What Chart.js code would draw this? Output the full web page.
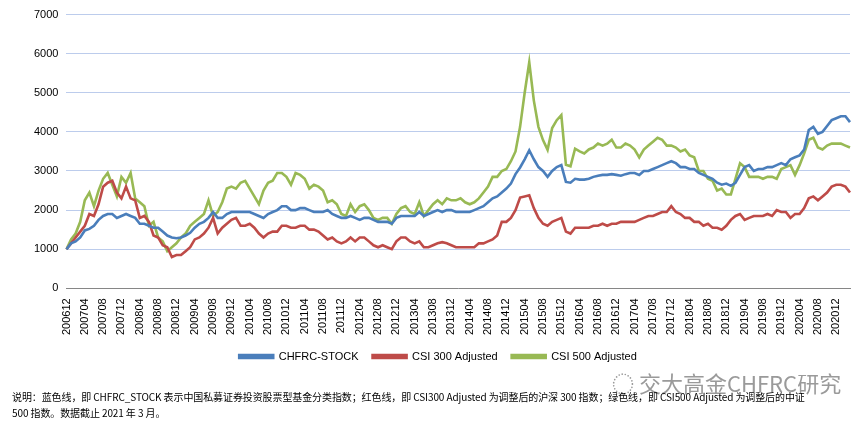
<!DOCTYPE html>
<html><head><meta charset="utf-8">
<script src="https://cdn.jsdelivr.net/npm/chart.js@4"></script>
<style>
body{margin:0;background:#fff;width:865px;height:423px;overflow:hidden;position:relative;font-family:"Liberation Sans",Arial,sans-serif}
#wrap{position:absolute;left:0;top:0;width:865px;height:372px}
#note{position:absolute;left:12px;top:389px;font-size:10px;line-height:16px;color:#000;font-family:"Noto Sans CJK SC","DejaVu Sans Mono",monospace;letter-spacing:-0.1px;white-space:nowrap}
#wm{position:absolute;left:612px;top:366px;font-size:22px;color:#9a9a9a;font-family:"Noto Sans CJK SC",sans-serif}
</style></head><body>
<div id="wrap"><canvas id="c"></canvas></div>
<div id="wm">◌ 交大高金CHFRC研究</div>
<div id="note">说明：蓝色线，即 CHFRC_STOCK 表示中国私募证券投资股票型基金分类指数；红色线，即 CSI300 Adjusted 为调整后的沪深 300 指数；绿色线，即 CSI500 Adjusted 为调整后的中证<br>500 指数。数据截止 2021 年 3 月。</div>
<script>
const categories=[];
for(let y=2006,m=12;categories.length<172;){categories.push(String(y)+String(m).padStart(2,'0'));m++;if(m>12){m=1;y++;}}
const chfrcStock=[
1000,1150,1200,1300,1480,1520,1600,1750,1850,1900,
1900,1800,1850,1900,1850,1800,1650,1650,1600,1550,
1550,1450,1350,1300,1280,1300,1350,1420,1550,1650,
1700,1800,1950,1800,1800,1900,1950,1950,1950,1950,
1950,1900,1850,1800,1900,1950,2000,2100,2100,2000,
2000,2050,2050,2000,1950,1950,1950,2000,1900,1850,
1800,1800,1850,1800,1750,1800,1800,1750,1700,1700,
1700,1650,1800,1850,1850,1850,1850,1950,1850,1900,
1950,2000,1950,2000,2000,1950,1950,1950,1950,2000,
2050,2100,2200,2300,2350,2450,2550,2680,2920,3090,
3300,3530,3300,3100,3000,2850,3000,3100,3150,2720,
2700,2800,2780,2780,2800,2850,2880,2900,2900,2920,
2900,2880,2920,2950,2950,2900,3000,3000,3050,3100,
3150,3200,3250,3200,3100,3100,3050,3050,2950,2900,
2850,2800,2700,2650,2680,2620,2700,2900,3100,3150,
3000,3050,3050,3100,3100,3150,3200,3150,3300,3350,
3400,3550,4050,4130,3950,4000,4150,4300,4350,4400,
4400,4250];
const csi300Adjusted=[
1000,1150,1300,1450,1600,1900,1850,2150,2600,2700,
2750,2450,2300,2600,2300,2250,1800,1850,1700,1350,
1300,1100,1050,800,850,850,950,1050,1250,1300,
1400,1550,1800,1400,1550,1650,1750,1800,1600,1600,
1650,1550,1400,1300,1400,1450,1450,1600,1600,1550,
1550,1600,1600,1500,1500,1450,1350,1250,1300,1200,
1150,1200,1300,1200,1300,1300,1200,1100,1050,1100,
1050,1000,1200,1300,1300,1200,1150,1200,1050,1050,
1100,1150,1180,1150,1100,1050,1050,1050,1050,1050,
1150,1150,1200,1250,1350,1700,1700,1800,2000,2320,
2350,2380,2050,1800,1650,1600,1700,1750,1800,1450,
1400,1550,1550,1550,1550,1600,1600,1650,1600,1650,
1650,1700,1700,1700,1700,1750,1800,1850,1850,1900,
1950,1950,2100,1950,1900,1800,1800,1700,1700,1600,
1650,1550,1550,1500,1600,1750,1850,1900,1750,1800,
1850,1850,1850,1900,1850,2000,1950,1950,1800,1900,
1900,2050,2300,2350,2250,2350,2450,2600,2650,2650,
2600,2450];
const csi500Adjusted=[
1000,1250,1400,1700,2250,2450,2100,2500,2800,2950,
2650,2350,2850,2700,2950,2300,2200,2100,1600,1700,
1300,1200,950,1050,1150,1300,1400,1600,1700,1800,
1900,2250,1850,1950,2200,2550,2600,2550,2700,2750,
2550,2350,2150,2500,2700,2750,2950,2950,2850,2650,
2950,2900,2800,2550,2650,2600,2500,2200,2250,2150,
1900,1850,2150,1950,2100,2150,2000,1800,1750,1800,
1800,1650,1900,2050,2100,1950,1900,2200,1850,2000,
2150,2250,2150,2300,2250,2250,2300,2200,2150,2200,
2300,2450,2600,2850,2850,3000,3050,3250,3500,4130,
5000,5780,4800,4130,3790,3540,4100,4300,4430,3160,
3120,3570,3500,3450,3550,3600,3700,3650,3700,3800,
3600,3600,3700,3650,3550,3350,3550,3650,3750,3850,
3800,3650,3650,3600,3500,3550,3400,3350,3000,3000,
2800,2750,2500,2550,2400,2400,2800,3200,3100,2850,
2850,2850,2800,2850,2850,2800,3050,3100,3150,2900,
3150,3450,3800,3850,3600,3550,3650,3700,3700,3700,
3650,3600];
const yTicks=[0,1000,2000,3000,4000,5000,6000,7000];
const mk=(l,d,c)=>({label:l,data:d,borderColor:c,backgroundColor:c,borderWidth:2.6,pointRadius:0,tension:0});
new Chart(document.getElementById('c'),{type:'line',
data:{labels:categories,datasets:[mk('CHFRC-STOCK',chfrcStock,'#4a7ebb'),mk('CSI 300 Adjusted',csi300Adjusted,'#be4b48'),mk('CSI 500 Adjusted',csi500Adjusted,'#98b954')]},
options:{responsive:true,maintainAspectRatio:false,animation:false,
layout:{padding:{top:12,right:15,left:26,bottom:0}},
plugins:{legend:{position:'bottom',labels:{boxWidth:34,boxHeight:3,color:'#000',font:{size:11},padding:14}},tooltip:{enabled:false}},
scales:{
x:{grid:{display:false},border:{color:'#868686'},ticks:{autoSkip:false,minRotation:90,maxRotation:90,color:'#000',font:{size:11},padding:2,
callback:(v,i)=>i%4===0?categories[i]:null}},
y:{min:0,max:7000,afterBuildTicks:a=>{a.ticks=yTicks.map(v=>({value:v}));},grid:{color:'#bcccec',drawTicks:false},border:{display:false},ticks:{color:'#000',font:{size:11},padding:8,callback:v=>String(v)}}
}}});
</script></body></html>
